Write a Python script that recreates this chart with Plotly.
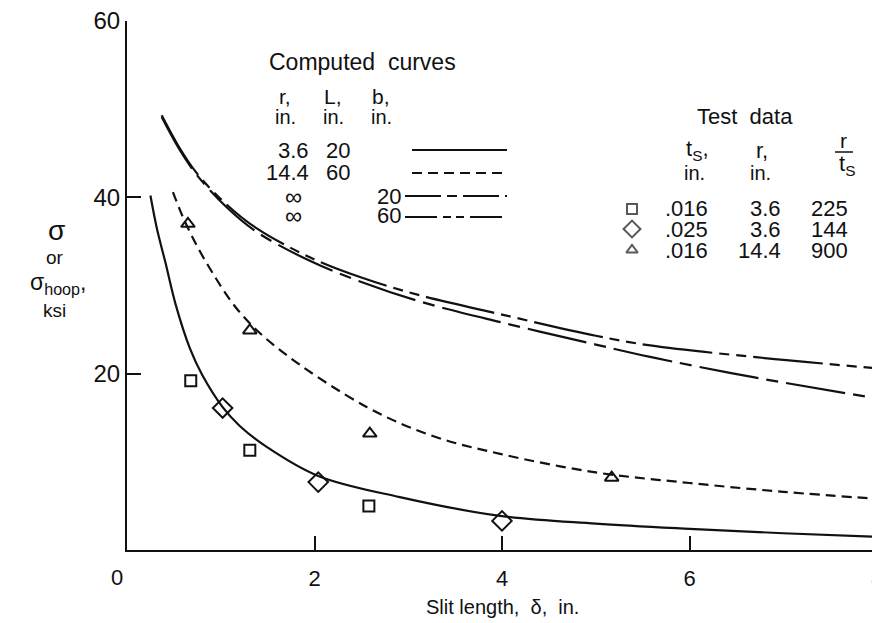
import plotly.graph_objects as go

# ---------------- data ----------------
# Computed curves
x_r36 = [0.25, 0.32, 0.41, 0.52, 0.67, 0.8, 1.02, 1.2, 1.49, 2.04, 2.91, 3.96, 5.0, 6.0, 7.0, 8.0]
y_r36 = [40.2, 36.4, 32.6, 27.8, 22.9, 19.9, 16.2, 14.1, 11.7, 8.4, 6.0, 3.9, 3.0, 2.4, 1.9, 1.5]

x_r144 = [0.49, 0.62, 0.83, 1.2, 1.63, 2.56, 3.27, 3.98, 5.0, 6.0, 7.0, 8.0]
y_r144 = [40.6, 37.2, 32.9, 27.0, 22.7, 16.2, 12.9, 10.9, 8.8, 7.6, 6.6, 5.8]

x_inf = [0.37, 0.55, 0.74, 1.06, 1.38, 1.95, 2.5, 3.12, 4.0, 5.0, 5.58, 6.68, 8.0]
y_inf_b60 = [49.3, 45.8, 42.8, 39.2, 36.5, 33.2, 30.9, 28.9, 26.7, 24.3, 23.2, 21.9, 20.6]
y_inf_b20 = [49.1, 45.6, 42.6, 38.9, 36.1, 32.8, 30.4, 28.2, 25.8, 23.3, 21.9, 19.6, 17.2]

# Test data
x_sq = [0.68, 1.31, 2.58]
y_sq = [19.2, 11.3, 5.0]
x_dia = [1.02, 2.04, 4.0]
y_dia = [16.1, 7.7, 3.3]
x_tri = [0.65, 1.31, 2.59, 5.17]
y_tri = [37.0, 24.9, 13.2, 8.2]

x_ticks = [0, 2, 4, 6, 8]
y_ticks = [20, 40, 60]

# legend tables
cc_rows = [("3.6", "20", ""), ("14.4", "60", ""), ("∞", "", "20"), ("∞", "", "60")]
td_rows = [(".016", "3.6", "225"), (".025", "3.6", "144"), (".016", "14.4", "900")]

FONT = "Liberation Sans"
BLACK = "#111111"

fig = go.Figure()

LW = 2.2
fig.add_trace(go.Scatter(x=x_r36, y=y_r36, mode="lines", line=dict(color=BLACK, width=LW, shape="spline"), showlegend=False))
fig.add_trace(go.Scatter(x=x_r144, y=y_r144, mode="lines", line=dict(color=BLACK, width=LW, shape="spline", dash="10px,6px"), showlegend=False))
fig.add_trace(go.Scatter(x=x_inf, y=y_inf_b20, mode="lines", line=dict(color=BLACK, width=LW, shape="spline", dash="60px,8px,12px,8px"), showlegend=False))
fig.add_trace(go.Scatter(x=x_inf, y=y_inf_b60, mode="lines", line=dict(color=BLACK, width=LW, shape="spline", dash="70px,7px,10px,7px,10px,7px"), showlegend=False))

mk = dict(color=BLACK, line=dict(color=BLACK, width=2))
fig.add_trace(go.Scatter(x=x_sq, y=y_sq, mode="markers", marker=dict(symbol="square-open", size=11, **mk), showlegend=False))
fig.add_trace(go.Scatter(x=x_dia, y=y_dia, mode="markers", marker=dict(symbol="diamond-open", size=15, **mk), showlegend=False))
fig.add_trace(go.Scatter(x=x_tri, y=y_tri, mode="markers", marker=dict(symbol="triangle-up-open", size=12, **mk), showlegend=False))

# target plot-area position in the screenshot (pixels)
L, R, T, B = 127, 877, 21, 550
# page body has an 8px offset; compensate in figure size / margins
OFF = 8
W, H = 880 - OFF, 623 - OFF

# overlay pixel axes for legend symbol placement
fig.add_trace(go.Scatter(x=[632, 632, 632], y=[209, 229, 250], xaxis="x2", yaxis="y2", mode="markers",
                         marker=dict(symbol=["square-open", "diamond-open", "triangle-up-open"], size=[10, 13, 10], **mk),
                         showlegend=False))

def PX(x):
    return (x - L) / (R - L)

def PY(y):
    return (B - y) / (B - T)

ann = []
def txt(x, y, s, size=21, xa="center", ya="middle"):
    ann.append(dict(x=PX(x), y=PY(y), xref="paper", yref="paper", text=s, showarrow=False,
                    xanchor=xa, yanchor=ya, font=dict(family=FONT, size=size, color=BLACK)))

# Computed curves legend
txt(362, 62, "Computed  curves", 23)
for xx, s in [(285, "r,"), (333, "L,"), (381, "b,")]:
    txt(xx, 96, s, 21)
for xx in [285, 333, 381]:
    txt(xx, 117, "in.", 20)
rows_y = [150, 173, 196, 216]
for (r, l, b), yy in zip(cc_rows, rows_y):
    if r == "∞":
        txt(293, yy, r, 24)
    else:
        txt(311, yy, r, 22, xa="right")
    if l:
        txt(338, yy, l, 22)
    if b:
        txt(403, yy, b, 22, xa="right")

shapes = []
def seg(x0, x1, y, dash, w=LW):
    shapes.append(dict(type="line", xref="paper", yref="paper", x0=PX(x0), x1=PX(x1), y0=PY(y), y1=PY(y),
                       line=dict(color=BLACK, width=w, dash=dash)))
seg(412, 507, 150, "solid")
seg(412, 507, 173, "10px,6px")
seg(405, 507, 196, "36px,6px,10px,6px")
seg(405, 507, 217, "32px,6px,8px,5px,8px,6px")

# Test data legend
txt(745, 117, "Test  data", 22)
txt(697, 150, "t<sub>S</sub>,", 22)
txt(694, 173, "in.", 20)
txt(762, 150, "r,", 22)
txt(760, 173, "in.", 20)
txt(843, 140, "r", 21)
seg(835, 853, 152, "solid", 1.5)
txt(847, 165, "t<sub>S</sub>", 22)
for (a, b, c), yy in zip(td_rows, [209, 229, 250]):
    txt(686, yy, a, 22)
    txt(783, yy, b, 22, xa="right")
    txt(850, yy, c, 22, xa="right")

# axis label annotations
txt(117, 577, "0", 22)
txt(56, 230, "σ", 28)
txt(55, 257, "or", 19)
txt(58, 283, "σ<sub>hoop</sub>,", 23)
txt(54, 310, "ksi", 19)
txt(502, 607, "Slit length,  δ,  in.", 20)

fig.update_layout(
    width=W, height=H,
    margin=dict(l=L - OFF, r=W - (R - OFF), t=T - OFF, b=H - (B - OFF), autoexpand=False),
    paper_bgcolor="white", plot_bgcolor="white",
    font=dict(family=FONT, size=22, color=BLACK),
    xaxis=dict(range=[0, 8], tickvals=x_ticks, ticktext=["", "2", "4", "6", "8"],
               ticks="inside", ticklen=14, tickwidth=2, tickcolor=BLACK,
               showline=True, linecolor=BLACK, linewidth=2, showgrid=False, zeroline=False,
               ticklabelstandoff=8, tickfont=dict(size=22), automargin=False,
               ticklabeloverflow="allow"),
    yaxis=dict(range=[0, 60], tickvals=y_ticks, ticks="inside", ticklen=14, tickwidth=2, tickcolor=BLACK,
               showline=True, linecolor=BLACK, linewidth=2, showgrid=False, zeroline=False,
               ticklabelstandoff=0, tickfont=dict(size=24), automargin=False,
               ticklabeloverflow="allow"),
    xaxis2=dict(range=[L, R], overlaying="x", visible=False, anchor="y2"),
    yaxis2=dict(range=[B, T], overlaying="y", visible=False, anchor="x2"),
    annotations=ann, shapes=shapes,
)

fig.write_html("out.html")
